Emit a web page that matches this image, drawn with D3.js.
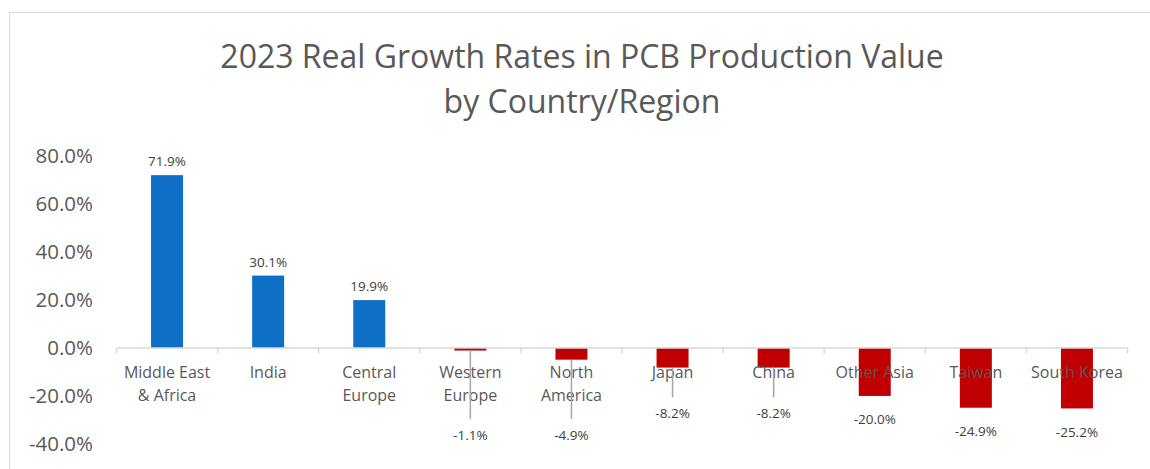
<!DOCTYPE html>
<html>
<head>
<meta charset="utf-8">
<script src="https://cdn.jsdelivr.net/npm/d3@7"></script>
<style>
  body { margin: 0; background: #fff; }
  text { font-family: "Open Sans", sans-serif; }
</style>
</head>
<body>
<div id="chart"></div>
<script>
// chart data
const regions = ["Middle East\n& Africa", "India", "Central\nEurope", "Western\nEurope", "North\nAmerica",
                 "Japan", "China", "Other Asia", "Taiwan", "South Korea"];
const growth = [71.9, 30.1, 19.9, -1.1, -4.9, -8.2, -8.2, -20.0, -24.9, -25.2];
const yTicks = [-40, -20, 0, 20, 40, 60, 80];
const titleLines = ["2023 Real Growth Rates in PCB Production Value", "by Country/Region"];
// where the (hand-placed) data labels sit, in value units
const labelAt = [77.5, 35.7, 25.5, -36.3, -36.3, -27.2, -27.2, -29.8, -34.9, -35.3];
const leader = [false, false, false, true, true, true, true, false, false, false];

const width = 1150, height = 469;
const margin = {top: 156, right: 22, bottom: 25, left: 116.5};

let svg = d3.select("#chart")
    .append("svg")
    .attr("width", width)
    .attr("height", height);

// chart area border
svg.append("rect")
    .attr("x", 9.5).attr("y", 12.5)
    .attr("width", 1200).attr("height", 500)
    .attr("fill", "none")
    .attr("stroke", "#d9d9d9");

// title
svg.append("text")
    .attr("text-anchor", "middle")
    .style("font-size", "32px")
    .style("fill", "#595959")
    .selectAll("tspan")
    .data(titleLines)
    .enter()
    .append("tspan")
    .attr("x", 582)
    .attr("y", (d, i) => 68 + i * 45)
    .text(d => d);

let x = d3.scaleBand()
    .domain(d3.range(regions.length))
    .range([margin.left, 1127.5]);

let y = d3.scaleLinear()
    .domain([-40, 80])
    .range([444, 155.7]);

// y axis labels (no axis line)
svg.append("g")
    .selectAll("text")
    .data(yTicks)
    .enter()
    .append("text")
    .attr("x", 93)
    .attr("y", d => y(d))
    .attr("dy", "0.35em")
    .attr("text-anchor", "end")
    .style("font-size", "20.5px")
    .style("fill", "#595959")
    .text(d => d.toFixed(1) + "%");

// bars
svg.append("g")
    .selectAll("rect")
    .data(growth)
    .enter()
    .append("rect")
    .attr("x", (d, i) => x(i) + x.bandwidth() / 2 - 16)
    .attr("y", d => y(Math.max(0, d)))
    .attr("width", 32)
    .attr("height", d => Math.abs(y(d) - y(0)))
    .attr("fill", d => d >= 0 ? "#0f6fc6" : "#c00000");

// zero axis with tick marks
let xAxis = svg.append("g")
    .attr("transform", `translate(0, ${y(0)})`);
xAxis.append("line")
    .attr("x1", margin.left).attr("x2", 1127.5)
    .attr("stroke", "#d9d9d9")
    .attr("stroke-width", 1.5);
xAxis.selectAll(".tk")
    .data(d3.range(regions.length + 1))
    .enter()
    .append("line")
    .attr("x1", i => i < regions.length ? x(i) : 1127.5)
    .attr("x2", i => i < regions.length ? x(i) : 1127.5)
    .attr("y1", 0).attr("y2", 5.5)
    .attr("stroke", "#d9d9d9")
    .attr("stroke-width", 1.5);

// category labels
svg.append("g")
    .selectAll("text")
    .data(regions)
    .enter()
    .append("text")
    .attr("text-anchor", "middle")
    .style("font-size", "16px")
    .style("fill", "#595959")
    .each(function(d, i) {
        d3.select(this).selectAll("tspan")
            .data(d.split("\n"))
            .enter()
            .append("tspan")
            .attr("x", x(i) + x.bandwidth() / 2)
            .attr("y", (t, j) => 378 + j * 23)
            .text(t => t);
    });

// leader lines
svg.append("g")
    .selectAll("line")
    .data(growth.map((d, i) => ({v: d, i: i})).filter(d => leader[d.i]))
    .enter()
    .append("line")
    .attr("x1", d => x(d.i) + x.bandwidth() / 2)
    .attr("x2", d => x(d.i) + x.bandwidth() / 2)
    .attr("y1", d => y(d.v))
    .attr("y2", d => y(labelAt[d.i]) - 16)
    .attr("stroke", "#a6a6a6")
    .attr("stroke-width", 1.5);

// data labels
svg.append("g")
    .selectAll("text")
    .data(growth)
    .enter()
    .append("text")
    .attr("x", (d, i) => x(i) + x.bandwidth() / 2)
    .attr("y", (d, i) => y(labelAt[i]))
    .attr("dy", "0.35em")
    .attr("text-anchor", "middle")
    .style("font-size", "13.5px")
    .style("fill", "#404040")
    .text(d => d.toFixed(1) + "%");
</script>
</body>
</html>
